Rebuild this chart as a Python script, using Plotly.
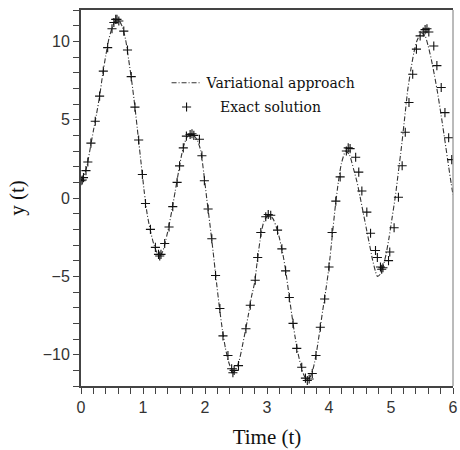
import plotly.graph_objects as go

# Variational approach (dash-dot curve)
t_var = [0.00, 0.05, 0.10, 0.15, 0.20, 0.25, 0.30, 0.35, 0.40, 0.45, 0.50, 0.55, 0.58,
         0.62, 0.67, 0.72, 0.77, 0.82, 0.87, 0.92, 0.97, 1.02, 1.07, 1.12, 1.17, 1.22,
         1.27, 1.32, 1.37, 1.42, 1.47, 1.52, 1.57, 1.62, 1.67, 1.72, 1.78, 1.84, 1.88,
         1.93, 1.98, 2.03, 2.08, 2.13, 2.18, 2.23, 2.28, 2.33, 2.38, 2.45, 2.50, 2.55,
         2.60, 2.65, 2.70, 2.75, 2.80, 2.85, 2.90, 2.95, 3.03, 3.10, 3.15, 3.20, 3.25,
         3.30, 3.35, 3.40, 3.45, 3.50, 3.55, 3.60, 3.65, 3.70, 3.75, 3.80, 3.85, 3.90,
         3.95, 4.00, 4.05, 4.10, 4.15, 4.20, 4.27, 4.33, 4.40, 4.45, 4.50, 4.55, 4.60,
         4.65, 4.70, 4.75, 4.78, 4.82, 4.87, 4.92, 4.97, 5.02, 5.07, 5.12, 5.17, 5.22,
         5.27, 5.32, 5.37, 5.42, 5.49, 5.55, 5.60, 5.65, 5.70, 5.75, 5.81, 5.87, 5.93,
         5.97, 6.00]
y_var = [1.10, 1.45, 2.10, 3.20, 4.30, 5.35, 6.50, 7.90, 9.10, 10.15, 10.85, 11.30, 11.40,
         11.30, 10.90, 10.10, 8.80, 7.40, 5.80, 4.00, 2.20, 0.40, -1.10, -2.10, -2.90, -3.45,
         -3.70, -3.40, -2.65, -1.75, -0.70, 0.45, 1.60, 2.70, 3.50, 3.95, 4.10, 3.90, 3.65,
         3.05, 1.60, -0.10, -1.70, -3.40, -5.20, -6.90, -8.40, -9.60, -10.45, -11.15, -10.95, -10.40,
         -9.50, -8.50, -7.45, -6.30, -5.40, -3.80, -2.40, -1.50, -1.05, -1.35, -1.85, -2.55, -3.45,
         -4.60, -6.05, -7.45, -8.80, -9.90, -10.75, -11.35, -11.60, -11.40, -10.80, -9.80, -8.50, -7.15,
         -5.85, -4.40, -2.50, -0.60, 1.00, 2.20, 3.00, 2.75, 1.80, 1.05, 0.10, -0.90, -1.90,
         -2.90, -3.90, -4.70, -5.00, -4.90, -4.40, -3.60, -2.50, -1.20, 0.10, 1.70, 3.30, 5.10,
         6.90, 8.20, 9.30, 10.05, 10.55, 10.35, 9.70, 8.85, 7.85, 6.75, 5.25, 3.65, 2.00,
         0.95, 0.20]

# Exact solution (plus markers)
t_exact = [0.00, 0.02, 0.04, 0.08, 0.11, 0.16, 0.23, 0.30, 0.36, 0.43, 0.50, 0.53, 0.56,
           0.58, 0.61, 0.69, 0.75, 0.81, 0.87, 0.93, 0.99, 1.04, 1.12, 1.20, 1.25, 1.27,
           1.29, 1.35, 1.42, 1.48, 1.55, 1.59, 1.65, 1.70, 1.76, 1.79, 1.82, 1.91, 1.95,
           1.99, 2.05, 2.11, 2.17, 2.24, 2.29, 2.37, 2.43, 2.45, 2.47, 2.54, 2.66, 2.73,
           2.81, 2.85, 2.90, 2.98, 3.02, 3.06, 3.17, 3.24, 3.30, 3.36, 3.42, 3.48, 3.56,
           3.62, 3.65, 3.68, 3.73, 3.79, 3.86, 3.93, 4.00, 4.05, 4.11, 4.18, 4.28, 4.31,
           4.34, 4.43, 4.48, 4.53, 4.61, 4.67, 4.75, 4.78, 4.83, 4.85, 4.87, 4.96, 4.98,
           5.05, 5.12, 5.18, 5.23, 5.29, 5.35, 5.41, 5.47, 5.52, 5.55, 5.58, 5.61, 5.69,
           5.74, 5.81, 5.87, 5.93, 5.98]
y_exact = [1.10, 1.15, 1.30, 1.75, 2.30, 3.50, 4.90, 6.50, 8.10, 9.60, 10.80, 11.20, 11.40,
           11.40, 11.30, 10.65, 9.45, 7.75, 5.80, 3.70, 1.50, -0.35, -2.00, -3.15, -3.60, -3.70,
           -3.60, -2.90, -1.85, -0.55, 1.00, 2.05, 3.20, 3.95, 4.05, 4.10, 4.00, 3.75, 2.70,
           1.10, -0.70, -2.60, -4.95, -7.05, -8.80, -10.05, -10.90, -11.15, -11.00, -10.70, -8.35, -6.85,
           -5.25, -3.80, -2.20, -1.20, -1.05, -1.10, -2.05, -3.25, -4.65, -6.35, -8.00, -9.60, -10.80,
           -11.50, -11.65, -11.55, -11.20, -10.05, -8.25, -6.45, -4.40, -2.20, -0.20, 1.35, 3.00, 3.20,
           3.15, 2.60, 1.65, 0.45, -0.90, -2.25, -3.35, -3.80, -4.40, -4.55, -4.45, -4.00, -3.45,
           -1.90, 0.05, 2.06, 4.20, 6.10, 7.90, 9.50, 10.35, 10.60, 10.75, 10.80, 10.60, 9.70,
           8.45, 7.05, 5.45, 3.85, 2.45]

x_ticks = [0, 1, 2, 3, 4, 5, 6]
y_ticks = [-10, -5, 0, 5, 10]

serif = "Liberation Serif, Times New Roman, serif"
legend_serif = "DejaVu Serif, serif"
sans = "Liberation Sans, Arial, sans-serif"

fig = go.Figure()
fig.add_trace(go.Scatter(
    x=t_var, y=y_var, mode="lines", name="Variational approach",
    line=dict(color="#333333", width=1.1, dash="5px,2px,1px,2px", shape="spline", smoothing=0.6),
    legendgroup="a",
))
fig.add_trace(go.Scatter(
    x=t_exact, y=y_exact, mode="markers", name="&nbsp;&nbsp;&nbsp;Exact solution",
    marker=dict(symbol="cross-thin", size=6.5, line=dict(color="#111111", width=1.1)),
    legendgroup="b",
))

axis_common = dict(
    showgrid=False, zeroline=False, showline=True, linecolor="#444444", linewidth=2,
    ticks="outside", ticklen=6, tickwidth=1, tickcolor="#444444",
    tickfont=dict(family=sans, size=16, color="#333333"),
    ticklabeloverflow="allow",
)

fig.update_xaxes(
    range=[0, 6], tickvals=x_ticks, mirror=True,
    minor=dict(dtick=0.2, ticks="outside", ticklen=6, tickwidth=1, tickcolor="#444444"),
    title=dict(text="Time (t)", font=dict(family=serif, size=21, color="#111111"), standoff=14),
    **axis_common,
)
fig.update_yaxes(
    range=[-12, 12], tickvals=y_ticks,
    minor=dict(dtick=1, ticks="outside", ticklen=6, tickwidth=1, tickcolor="#444444"),
    title=dict(text="y (t)", font=dict(family=serif, size=21, color="#111111"), standoff=12),
    **axis_common,
)

# thin frame line on the right-hand side
fig.add_shape(type="line", xref="paper", yref="paper", x0=1, x1=1, y0=0, y1=1,
              line=dict(color="#777777", width=1))

fig.update_layout(
    width=460, height=450,
    margin=dict(l=81, r=2, t=10, b=64),
    paper_bgcolor="white", plot_bgcolor="white",
    showlegend=True,
    legend=dict(x=0.23, y=0.848, xanchor="left", yanchor="top",
                bgcolor="rgba(0,0,0,0)", tracegroupgap=3,
                font=dict(family=legend_serif, size=14, color="#111111")),
)

fig.write_html("out.html")
